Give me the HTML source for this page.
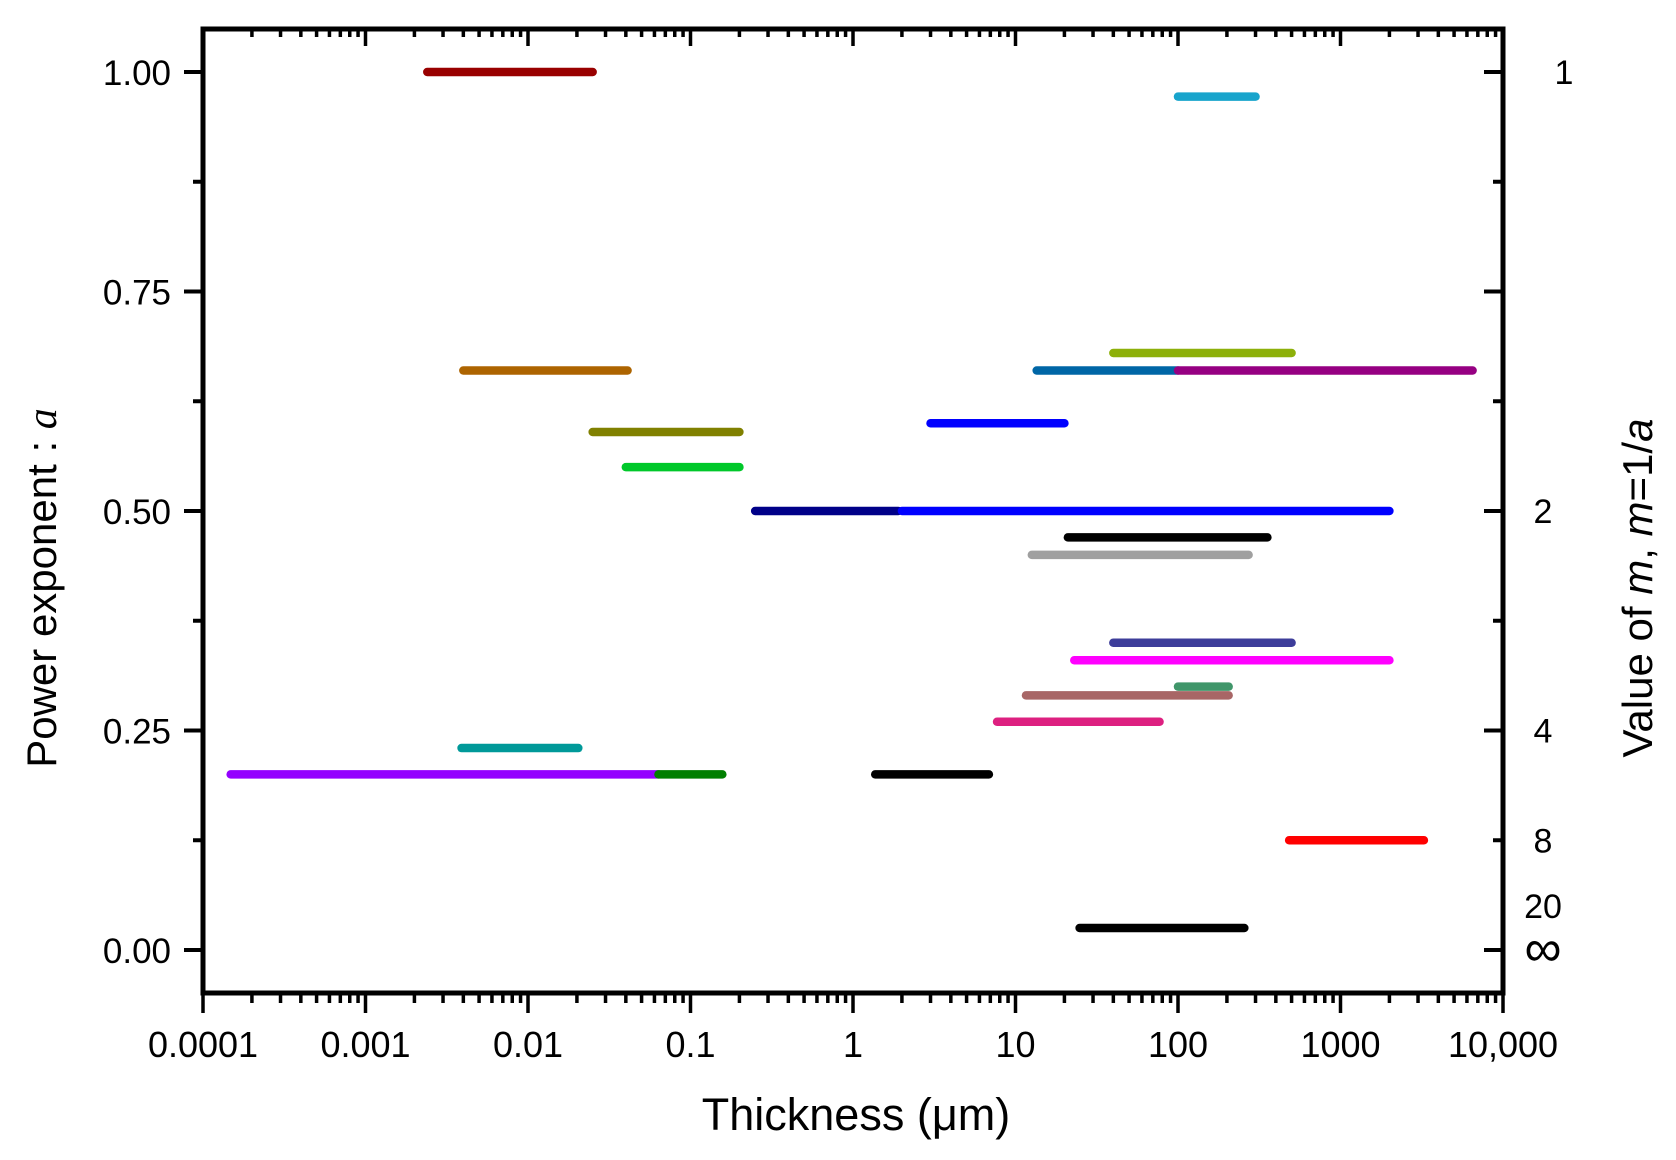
<!DOCTYPE html>
<html><head><meta charset="utf-8"><style>
html,body{margin:0;padding:0;background:#fff;}
svg{display:block;font-family:"Liberation Sans",Arial,sans-serif;}
</style></head><body>
<svg id="chart" width="1676" height="1160" viewBox="0 0 1676 1160" xmlns="http://www.w3.org/2000/svg">
<rect width="1676" height="1160" fill="#fff"/>
<g id="marks"></g>
<g id="axes"></g>
<text x="856" y="1130" font-size="45" text-anchor="middle">Thickness (μm)</text>
<text transform="translate(56,588) rotate(-90)" font-size="42" text-anchor="middle">Power exponent : <tspan font-family="Liberation Serif, serif" font-style="italic">a</tspan></text>
<text transform="translate(1652,588) rotate(-90)" font-size="42" text-anchor="middle">Value of <tspan font-style="italic">m</tspan>,   <tspan font-style="italic">m</tspan>=1/<tspan font-style="italic">a</tspan></text>
</svg>
<script>
const segStart = [0.0024,100,0.004,0.025,0.04,0.25,2,3,13.5,100,40,21,12.6,40,23,100,11.6,7.7,0.0039,0.000148,0.0635,1.37,483,24.8];
const segEnd   = [0.025,300,0.041,0.2,0.2,1.9,2000,20,100,6500,500,355,272,500,2000,205,205,77,0.0204,0.0635,0.157,6.86,3260,256];
const segA     = [1.0,0.972,0.66,0.59,0.55,0.5,0.5,0.6,0.66,0.66,0.68,0.47,0.45,0.35,0.33,0.3,0.29,0.26,0.23,0.2,0.2,0.2,0.125,0.025];
const segColors= ["#990000","#18a4cc","#ad6400","#808000","#00c82a","#000088","#0000ff","#0000ff","#0066a6","#960082","#8db00a","#000000","#a0a0a0","#3d3d9a","#ff00ff","#40966a","#a86666","#dd2080","#009999","#9400ff","#007f00","#000000","#ff0000","#000000"];
const xTickVals = [0.0001,0.001,0.01,0.1,1,10,100,1000,10000];
const xTickLabels = ["0.0001","0.001","0.01","0.1","1","10","100","1000","10,000"];
const yTickVals = [0,0.25,0.5,0.75,1.0];
const yTickLabels = ["0.00","0.25","0.50","0.75","1.00"];
const mTickVals = [1,0.5,0.25,0.125,0.05,0];
const mTickLabels = ["1","2","4","8","20","\u221e"];

const L=203,R=1503,T=29,B=993;
const Y0=950,Y1=72;
function xs(v){return L+(Math.log10(v)+4)*(R-L)/8;}
function ys(a){return Y0+(Y1-Y0)*a;}
const NS="http://www.w3.org/2000/svg";
function mk(tag,attrs,parent){const e=document.createElementNS(NS,tag);for(const k in attrs)e.setAttribute(k,attrs[k]);parent.appendChild(e);return e;}
const marks=document.getElementById('marks'), axes=document.getElementById('axes');

for(let i=0;i<segA.length;i++){
  const l=mk('line',{x1:xs(segStart[i]),x2:xs(segEnd[i]),y1:ys(segA[i]),y2:ys(segA[i]),stroke:segColors[i],'stroke-width':8.5,'stroke-linecap':'round'},marks);
  
  
}
const frame=mk('rect',{x:L,y:T,width:R-L,height:B-T,fill:'none',stroke:'#000','stroke-width':5},axes);



for(let d=-4;d<4;d++){
  for(let k=1;k<10;k++){
    const v=k*Math.pow(10,d); const x=xs(v);
    const major=(k===1);
    if(major){
      mk('line',{x1:x,x2:x,y1:B,y2:B+20,stroke:'#000','stroke-width':3.5},axes);
      mk('line',{x1:x,x2:x,y1:T,y2:T+17,stroke:'#000','stroke-width':3.5},axes);
    } else {
      mk('line',{x1:x,x2:x,y1:B,y2:B+10,stroke:'#000','stroke-width':3.5},axes);
      mk('line',{x1:x,x2:x,y1:T,y2:T+8,stroke:'#000','stroke-width':3.5},axes);
    }
  }
}
mk('line',{x1:R,x2:R,y1:B,y2:B+20,stroke:'#000','stroke-width':3.5},axes);
xTickVals.forEach((v,i)=>{
  const t=mk('text',{x:xs(v),y:1057,'font-size':36,'text-anchor':'middle'},axes);
  t.textContent=xTickLabels[i];
  
  
});
yTickVals.forEach((v,i)=>{
  const y=ys(v);
  mk('line',{x1:L-19,x2:L,y1:y,y2:y,stroke:'#000','stroke-width':4},axes);
  mk('line',{x1:R-19,x2:R,y1:y,y2:y,stroke:'#000','stroke-width':4},axes);
  const t=mk('text',{x:171,y:y+13,'font-size':35,'text-anchor':'end'},axes);
  t.textContent=yTickLabels[i];
  
  
});
[0.125,0.375,0.625,0.875].forEach(v=>{
  const y=ys(v);
  mk('line',{x1:L-10,x2:L,y1:y,y2:y,stroke:'#000','stroke-width':4},axes);
  mk('line',{x1:R-10,x2:R,y1:y,y2:y,stroke:'#000','stroke-width':4},axes);
});
mTickVals.forEach((v,i)=>{
  const y=ys(v);
  const t=mk('text',{x:i===0?1564:1543,y:y+(i===5?16:12),'font-size':i===5?52:34,'text-anchor':'middle'},axes);
  t.textContent=mTickLabels[i];
  
  
});
</script>
</body></html>
